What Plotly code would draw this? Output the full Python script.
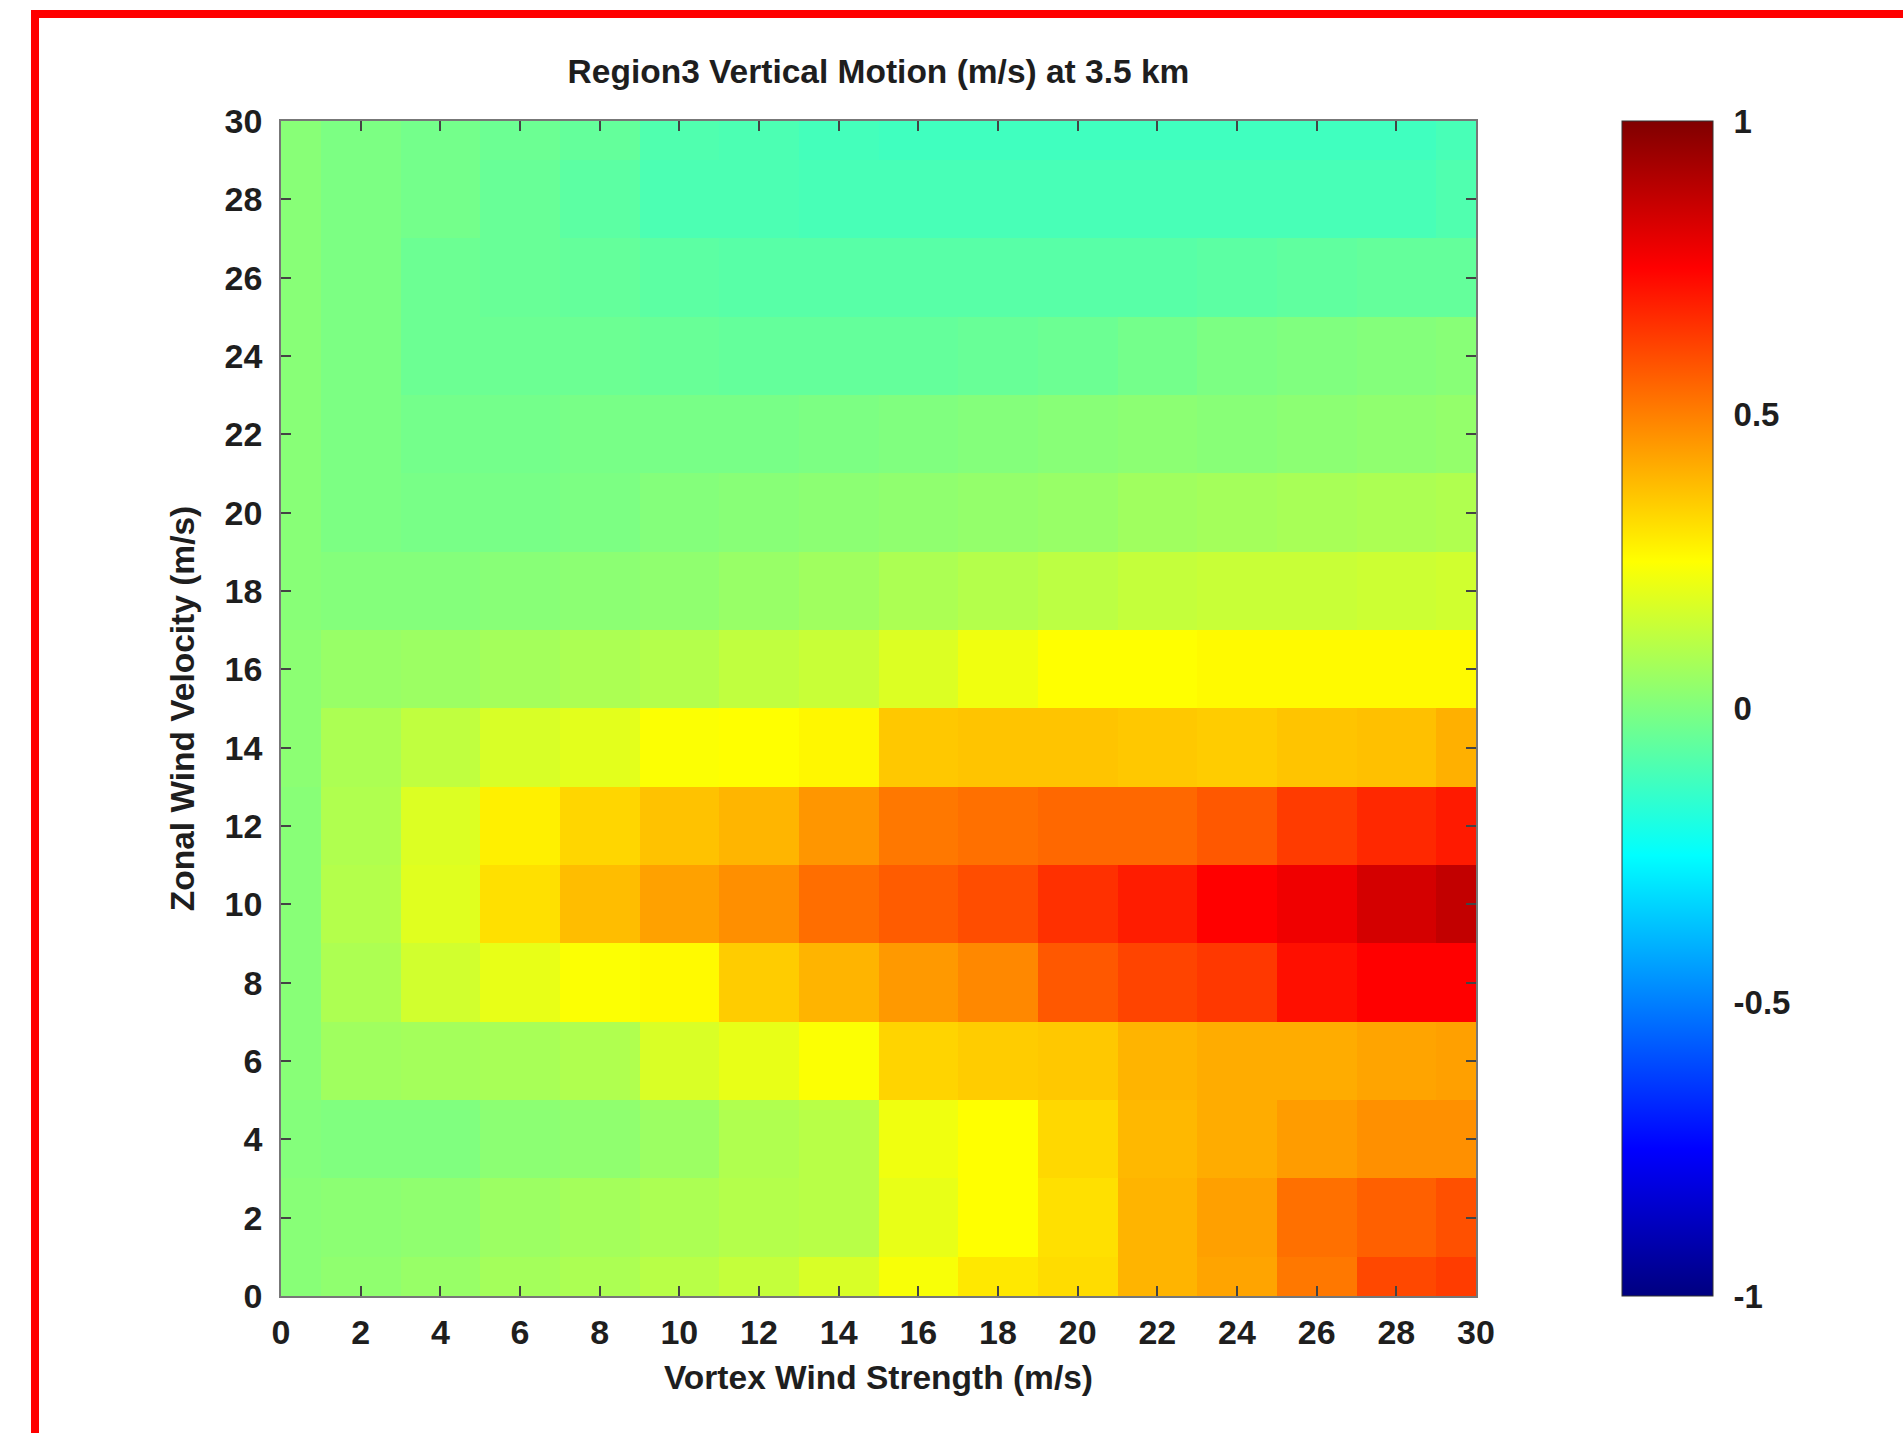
import plotly.graph_objects as go

# Vortex wind strength (x) and zonal wind velocity (y), m/s
vortex_strength = [0, 2, 4, 6, 8, 10, 12, 14, 16, 18, 20, 22, 24, 26, 28, 30]
zonal_velocity = [0, 2, 4, 6, 8, 10, 12, 14, 16, 18, 20, 22, 24, 26, 28, 30]

# Vertical motion (m/s); one row per zonal velocity (0 -> 30), columns vortex strength 0 -> 30
w_y00 = [0.017, 0.032, 0.048, 0.072, 0.087, 0.111, 0.134, 0.173, 0.237, 0.295, 0.319, 0.397, 0.428, 0.515, 0.609, 0.632]
w_y02 = [0.017, 0.025, 0.032, 0.056, 0.072, 0.087, 0.103, 0.111, 0.205, 0.250, 0.311, 0.397, 0.436, 0.530, 0.562, 0.593]
w_y04 = [0.009, 0.001, 0.001, 0.025, 0.032, 0.056, 0.095, 0.111, 0.221, 0.250, 0.326, 0.389, 0.413, 0.444, 0.468, 0.468]
w_y06 = [0.017, 0.064, 0.072, 0.079, 0.095, 0.175, 0.205, 0.245, 0.334, 0.350, 0.358, 0.397, 0.413, 0.413, 0.428, 0.436]
w_y08 = [0.017, 0.090, 0.160, 0.205, 0.245, 0.260, 0.350, 0.397, 0.450, 0.483, 0.577, 0.617, 0.640, 0.720, 0.750, 0.750]
w_y10 = [0.017, 0.103, 0.190, 0.310, 0.380, 0.435, 0.470, 0.535, 0.570, 0.600, 0.655, 0.695, 0.750, 0.780, 0.835, 0.870]
w_y12 = [0.017, 0.095, 0.181, 0.279, 0.330, 0.370, 0.395, 0.455, 0.515, 0.530, 0.546, 0.546, 0.577, 0.635, 0.672, 0.700]
w_y14 = [0.025, 0.087, 0.126, 0.173, 0.195, 0.245, 0.250, 0.265, 0.358, 0.366, 0.366, 0.358, 0.350, 0.366, 0.374, 0.405]
w_y16 = [0.025, 0.048, 0.056, 0.072, 0.087, 0.103, 0.126, 0.142, 0.181, 0.221, 0.250, 0.250, 0.260, 0.260, 0.260, 0.260]
w_y18 = [0.017, 0.009, 0.009, 0.017, 0.025, 0.032, 0.048, 0.064, 0.087, 0.103, 0.119, 0.134, 0.142, 0.142, 0.150, 0.158]
w_y20 = [0.017, -0.007, -0.015, -0.015, -0.007, 0.009, 0.017, 0.025, 0.032, 0.040, 0.048, 0.064, 0.072, 0.079, 0.087, 0.095]
w_y22 = [0.017, -0.007, -0.023, -0.023, -0.015, -0.015, -0.015, -0.007, 0.001, 0.009, 0.017, 0.025, 0.017, 0.025, 0.032, 0.040]
w_y24 = [0.017, -0.007, -0.038, -0.038, -0.038, -0.046, -0.054, -0.054, -0.054, -0.046, -0.038, -0.023, -0.007, 0.001, 0.009, 0.017]
w_y26 = [0.017, -0.007, -0.038, -0.046, -0.054, -0.070, -0.077, -0.077, -0.077, -0.077, -0.077, -0.077, -0.070, -0.062, -0.054, -0.054]
w_y28 = [0.017, -0.007, -0.023, -0.046, -0.070, -0.101, -0.101, -0.109, -0.109, -0.109, -0.109, -0.109, -0.109, -0.109, -0.109, -0.093]
w_y30 = [0.017, -0.007, -0.023, -0.038, -0.054, -0.093, -0.101, -0.117, -0.125, -0.125, -0.125, -0.125, -0.125, -0.125, -0.125, -0.109]

axis_ticks = [0, 2, 4, 6, 8, 10, 12, 14, 16, 18, 20, 22, 24, 26, 28, 30]
cbar_ticks = [-1, -0.5, 0, 0.5, 1]
cbar_ticktext = ["-1", "-0.5", "0", "0.5", "1"]

z = [w_y00, w_y02, w_y04, w_y06, w_y08, w_y10, w_y12, w_y14,
     w_y16, w_y18, w_y20, w_y22, w_y24, w_y26, w_y28, w_y30]

jet = [[0.0, "#000080"], [0.125, "#0000ff"], [0.375, "#00ffff"],
       [0.625, "#ffff00"], [0.875, "#ff0000"], [1.0, "#800000"]]

FONT = "Liberation Sans, Arial, Helvetica, sans-serif"
TXT = "#1e1e1e"

W, H = 1903, 1433
L, R, T, B = 281, 1476, 121, 1296
CB_L, CB_R = 1622, 1713

def px_x(p):
    return (p - L) / (R - L)

def px_y(p):
    return (B - p) / (B - T)

fig = go.Figure(go.Heatmap(
    x=vortex_strength, y=zonal_velocity, z=z,
    zmin=-1, zmax=1, colorscale=jet,
    colorbar=dict(
        x=px_x(CB_L), xanchor="left", xpad=0,
        y=0.5, yanchor="middle", len=1, lenmode="fraction", ypad=0,
        thickness=CB_R - CB_L, thicknessmode="pixels",
        outlinewidth=1, outlinecolor="#333333",
        tickvals=cbar_ticks, ticktext=cbar_ticktext,
        ticks="outside", ticklen=14, tickcolor="rgba(0,0,0,0)",
        tickfont=dict(family=FONT, size=33, color=TXT, weight="bold"),
    ),
))

# small inner tick marks on both sides of the colour bar
cb_shapes = []
for v in cbar_ticks[1:-1]:
    yy = (v + 1) / 2
    for xa, xb in ((CB_L, CB_L + 10), (CB_R - 10, CB_R)):
        cb_shapes.append(dict(type="line", xref="paper", yref="paper",
                              x0=px_x(xa), x1=px_x(xb), y0=yy, y1=yy,
                              line=dict(color="#444444", width=1.5), layer="above"))

fig.update_layout(
    width=W, height=H,
    margin=dict(l=L, r=W - R, t=T, b=H - B, pad=0),
    paper_bgcolor="white", plot_bgcolor="white",
    title=dict(text="Region3 Vertical Motion (m/s) at 3.5 km",
               x=0.5, xref="paper", xanchor="center",
               y=1 - 71 / H, yref="container", yanchor="middle",
               font=dict(family=FONT, size=33.5, color=TXT, weight="bold")),
    xaxis=dict(range=[0, 30], tickvals=axis_ticks, ticks="inside", ticklen=10,
               tickcolor="#444444", tickwidth=1.5, mirror="allticks",
               showline=True, linecolor="#777777", linewidth=1.5,
               showgrid=False, zeroline=False, ticklabelstandoff=5,
               tickfont=dict(family=FONT, size=34, color=TXT, weight="bold"),
               title=dict(text="Vortex Wind Strength (m/s)", standoff=16,
                          font=dict(family=FONT, size=33.5, color=TXT, weight="bold"))),
    yaxis=dict(range=[0, 30], tickvals=axis_ticks, ticks="inside", ticklen=10,
               tickcolor="#444444", tickwidth=1.5, mirror="allticks",
               showline=True, linecolor="#777777", linewidth=1.5,
               showgrid=False, zeroline=False, ticklabelstandoff=10,
               tickfont=dict(family=FONT, size=34, color=TXT, weight="bold"),
               title=dict(text="Zonal Wind Velocity (m/s)", standoff=20,
                          font=dict(family=FONT, size=33.5, color=TXT, weight="bold"))),
    shapes=[dict(type="rect", xref="paper", yref="paper",
                 x0=px_x(35), x1=px_x(W + 40),
                 y0=px_y(H + 40), y1=px_y(14),
                 line=dict(color="#ff0000", width=8), fillcolor="rgba(0,0,0,0)",
                 layer="above")] + cb_shapes,
)

fig.write_html("out.html")
